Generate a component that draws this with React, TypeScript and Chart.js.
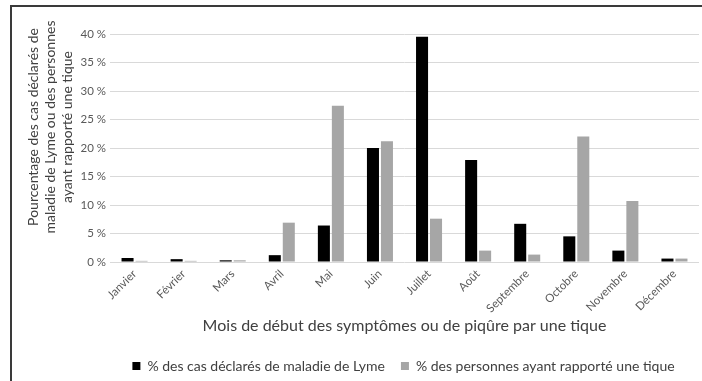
import React, { useEffect, useRef } from "react";
import { Chart, registerables } from "chart.js";

Chart.register(...registerables);

const months = ["Janvier", "Février", "Mars", "Avril", "Mai", "Juin", "Juillet", "Août", "Septembre", "Octobre", "Novembre", "Décembre"];
const lymeCases = [0.7, 0.5, 0.3, 1.2, 6.4, 20.0, 39.5, 17.9, 6.7, 4.5, 2.0, 0.6];
const tickReports = [0.2, 0.2, 0.3, 6.9, 27.4, 21.2, 7.6, 2.0, 1.3, 22.0, 10.7, 0.6];
const lymeLabel = "% des cas déclarés de maladie de Lyme";
const tickLabel = "% des personnes ayant rapporté une tique";
const yTitleLines = ["Pourcentage des cas déclarés de", "maladie de Lyme ou des personnes", "ayant rapporté une tique"];
const xTitle = "Mois de début des symptômes ou de piqûre par une tique";

const FONT = "Lato";
const LEGEND_PAD = 16;

const yTitlePlugin = {
  id: "yTitlePlugin",
  afterLayout(chart: any) {
    const lg = chart.legend;
    if (lg) {
      lg.left = chart.chartArea.left - LEGEND_PAD + 14;
      lg.right = chart.chartArea.right;
      lg.width = lg.right - lg.left;
    }
  },
  afterDraw(chart: any) {
    const ctx = chart.ctx;
    ctx.save();
    ctx.fillStyle = "#404040";
    ctx.font = `14px ${FONT}`;
    ctx.textAlign = "center";
    ctx.textBaseline = "middle";
    const cy = 127;
    const xs = [33, 50, 67];
    yTitleLines.forEach((line, i) => {
      ctx.save();
      ctx.translate(xs[i], cy);
      ctx.rotate(-Math.PI / 2);
      ctx.fillText(line, 0, 0);
      ctx.restore();
    });
    ctx.restore();
  },
};

export default function App() {
  const ref = useRef<HTMLCanvasElement>(null);
  useEffect(() => {
    if (!ref.current) return;
    Chart.defaults.font.family = FONT;
    const chart = new Chart(ref.current, {
      type: "bar",
      data: {
        labels: months,
        datasets: [
          { label: lymeLabel, data: lymeCases, backgroundColor: "#000000", barPercentage: 0.86, categoryPercentage: 0.57 },
          { label: tickLabel, data: tickReports, backgroundColor: "#a6a6a6", barPercentage: 0.86, categoryPercentage: 0.57 },
        ],
      },
      options: {
        responsive: false,
        animation: false,
        layout: { padding: { top: 34, left: 0, right: 3, bottom: -2 } },
        plugins: {
          legend: {
            position: "bottom",
            labels: {
              boxWidth: 8,
              boxHeight: 8,
              padding: LEGEND_PAD,
              color: "#404040",
              font: { size: 14, family: FONT },
            },
          },
          tooltip: { enabled: false },
        },
        scales: {
          x: {
            grid: { display: false, drawTicks: false },
            border: { display: false },
            ticks: {
              color: "#595959",
              font: { size: 11.5, family: FONT },
              maxRotation: 45,
              minRotation: 45,
              autoSkip: false,
              padding: 5,
            },
            title: {
              display: true,
              text: xTitle,
              color: "#404040",
              font: { size: 16, family: FONT },
              padding: { top: 0, bottom: 7.4 },
            },
            afterFit(scale: any) {
              scale.height = 81;
            },
          },
          y: {
            min: 0,
            max: 40,
            grid: { color: "#d9d9d9", drawTicks: false },
            border: { display: false },
            ticks: {
              stepSize: 5,
              color: "#595959",
              font: { size: 11.5, family: FONT },
              padding: 4,
              callback: (v: any) => `${v} %`,
            },
            afterFit(scale: any) {
              scale.width = 110;
            },
          },
        },
      },
      plugins: [yTitlePlugin],
    });
    return () => chart.destroy();
  }, []);

  return (
    <div style={{ position: "fixed", left: 0, top: 0, width: 702, height: 381, overflow: "hidden", background: "#fff" }}>
      <div style={{ position: "absolute", left: 10, top: 5, width: 1000, height: 1000, border: "2px solid #3a3a3a" }} />
      <canvas ref={ref} width={702} height={381} style={{ position: "absolute", left: 0, top: 0, width: 702, height: 381 }} />
    </div>
  );
}
